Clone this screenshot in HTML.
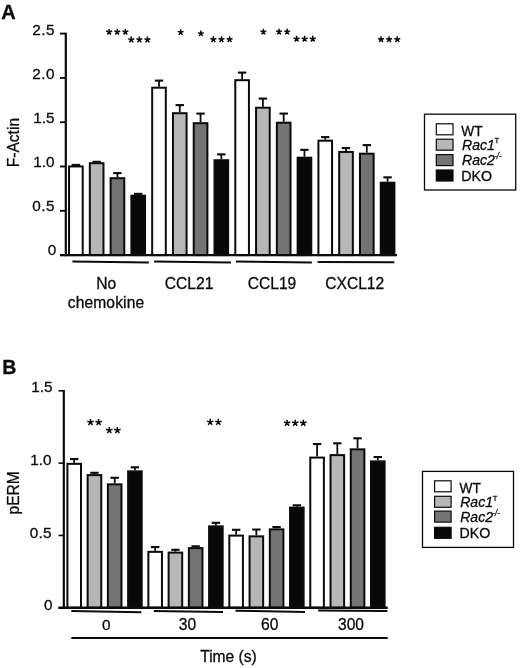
<!DOCTYPE html>
<html><head><meta charset="utf-8"><title>Figure</title>
<style>html,body{margin:0;padding:0;background:#fff}svg{display:block;will-change:transform;opacity:0.999}</style>
</head><body>
<svg width="520" height="668" viewBox="0 0 520 668" font-family="Liberation Sans, sans-serif" fill="#0b0b0b"><style>text{stroke:#0b0b0b;stroke-width:0.3px;stroke-linejoin:round}</style>
<rect width="520" height="668" fill="#fff"/>
<text x="1.3" y="18.8" font-size="20" text-anchor="start" font-weight="bold" font-style="normal" >A</text>
<line x1="75.88" y1="164.90" x2="75.88" y2="165.45" stroke="#0b0b0b" stroke-width="1.8"/>
<line x1="71.67" y1="164.90" x2="80.08" y2="164.90" stroke="#0b0b0b" stroke-width="2.1"/>
<rect x="69.05" y="166.45" width="13.65" height="88.65" fill="#ffffff" stroke="#0b0b0b" stroke-width="2.0"/>
<line x1="96.66" y1="161.80" x2="96.66" y2="162.20" stroke="#0b0b0b" stroke-width="1.8"/>
<line x1="92.45" y1="161.80" x2="100.86" y2="161.80" stroke="#0b0b0b" stroke-width="2.1"/>
<rect x="89.83" y="163.20" width="13.65" height="91.90" fill="#b7b7b7" stroke="#0b0b0b" stroke-width="2.0"/>
<line x1="117.44" y1="173.10" x2="117.44" y2="177.20" stroke="#0b0b0b" stroke-width="1.8"/>
<line x1="113.23" y1="173.10" x2="121.64" y2="173.10" stroke="#0b0b0b" stroke-width="2.1"/>
<rect x="110.61" y="178.20" width="13.65" height="76.90" fill="#747474" stroke="#0b0b0b" stroke-width="2.0"/>
<line x1="138.21" y1="193.85" x2="138.21" y2="194.70" stroke="#0b0b0b" stroke-width="1.8"/>
<line x1="134.01" y1="193.85" x2="142.41" y2="193.85" stroke="#0b0b0b" stroke-width="2.1"/>
<rect x="131.39" y="195.70" width="13.65" height="59.40" fill="#080808" stroke="#0b0b0b" stroke-width="2.0"/>
<line x1="159.00" y1="80.60" x2="159.00" y2="86.70" stroke="#0b0b0b" stroke-width="1.8"/>
<line x1="154.80" y1="80.60" x2="163.19" y2="80.60" stroke="#0b0b0b" stroke-width="2.1"/>
<rect x="152.17" y="87.70" width="13.65" height="167.40" fill="#ffffff" stroke="#0b0b0b" stroke-width="2.0"/>
<line x1="179.77" y1="105.10" x2="179.77" y2="112.20" stroke="#0b0b0b" stroke-width="1.8"/>
<line x1="175.57" y1="105.10" x2="183.97" y2="105.10" stroke="#0b0b0b" stroke-width="2.1"/>
<rect x="172.95" y="113.20" width="13.65" height="141.90" fill="#b7b7b7" stroke="#0b0b0b" stroke-width="2.0"/>
<line x1="200.56" y1="113.60" x2="200.56" y2="122.20" stroke="#0b0b0b" stroke-width="1.8"/>
<line x1="196.36" y1="113.60" x2="204.75" y2="113.60" stroke="#0b0b0b" stroke-width="2.1"/>
<rect x="193.73" y="123.20" width="13.65" height="131.90" fill="#747474" stroke="#0b0b0b" stroke-width="2.0"/>
<line x1="221.33" y1="154.35" x2="221.33" y2="159.20" stroke="#0b0b0b" stroke-width="1.8"/>
<line x1="217.13" y1="154.35" x2="225.53" y2="154.35" stroke="#0b0b0b" stroke-width="2.1"/>
<rect x="214.51" y="160.20" width="13.65" height="94.90" fill="#080808" stroke="#0b0b0b" stroke-width="2.0"/>
<line x1="242.12" y1="72.60" x2="242.12" y2="79.20" stroke="#0b0b0b" stroke-width="1.8"/>
<line x1="237.92" y1="72.60" x2="246.31" y2="72.60" stroke="#0b0b0b" stroke-width="2.1"/>
<rect x="235.29" y="80.20" width="13.65" height="174.90" fill="#ffffff" stroke="#0b0b0b" stroke-width="2.0"/>
<line x1="262.89" y1="98.60" x2="262.89" y2="106.70" stroke="#0b0b0b" stroke-width="1.8"/>
<line x1="258.69" y1="98.60" x2="267.09" y2="98.60" stroke="#0b0b0b" stroke-width="2.1"/>
<rect x="256.07" y="107.70" width="13.65" height="147.40" fill="#b7b7b7" stroke="#0b0b0b" stroke-width="2.0"/>
<line x1="283.68" y1="113.60" x2="283.68" y2="121.70" stroke="#0b0b0b" stroke-width="1.8"/>
<line x1="279.48" y1="113.60" x2="287.88" y2="113.60" stroke="#0b0b0b" stroke-width="2.1"/>
<rect x="276.85" y="122.70" width="13.65" height="132.40" fill="#747474" stroke="#0b0b0b" stroke-width="2.0"/>
<line x1="304.45" y1="149.85" x2="304.45" y2="156.70" stroke="#0b0b0b" stroke-width="1.8"/>
<line x1="300.25" y1="149.85" x2="308.65" y2="149.85" stroke="#0b0b0b" stroke-width="2.1"/>
<rect x="297.63" y="157.70" width="13.65" height="97.40" fill="#080808" stroke="#0b0b0b" stroke-width="2.0"/>
<line x1="325.24" y1="137.10" x2="325.24" y2="139.70" stroke="#0b0b0b" stroke-width="1.8"/>
<line x1="321.04" y1="137.10" x2="329.44" y2="137.10" stroke="#0b0b0b" stroke-width="2.1"/>
<rect x="318.41" y="140.70" width="13.65" height="114.40" fill="#ffffff" stroke="#0b0b0b" stroke-width="2.0"/>
<line x1="346.01" y1="148.10" x2="346.01" y2="150.95" stroke="#0b0b0b" stroke-width="1.8"/>
<line x1="341.81" y1="148.10" x2="350.21" y2="148.10" stroke="#0b0b0b" stroke-width="2.1"/>
<rect x="339.19" y="151.95" width="13.65" height="103.15" fill="#b7b7b7" stroke="#0b0b0b" stroke-width="2.0"/>
<line x1="366.80" y1="145.10" x2="366.80" y2="152.70" stroke="#0b0b0b" stroke-width="1.8"/>
<line x1="362.60" y1="145.10" x2="371.00" y2="145.10" stroke="#0b0b0b" stroke-width="2.1"/>
<rect x="359.97" y="153.70" width="13.65" height="101.40" fill="#747474" stroke="#0b0b0b" stroke-width="2.0"/>
<line x1="387.58" y1="177.35" x2="387.58" y2="181.70" stroke="#0b0b0b" stroke-width="1.8"/>
<line x1="383.38" y1="177.35" x2="391.78" y2="177.35" stroke="#0b0b0b" stroke-width="2.1"/>
<rect x="380.75" y="182.70" width="13.65" height="72.40" fill="#080808" stroke="#0b0b0b" stroke-width="2.0"/>
<line x1="65.8" y1="32.800000000000004" x2="65.8" y2="256.3" stroke="#0b0b0b" stroke-width="2.2"/>
<line x1="60" y1="255.1" x2="397" y2="255.1" stroke="#0b0b0b" stroke-width="2.4"/>
<line x1="60" y1="33.60" x2="65.8" y2="33.60" stroke="#0b0b0b" stroke-width="1.9"/>
<text x="55.1" y="34.50" font-size="15.3" text-anchor="end" font-weight="normal" font-style="normal" letter-spacing="0.55">2.5</text>
<line x1="60" y1="77.90" x2="65.8" y2="77.90" stroke="#0b0b0b" stroke-width="1.9"/>
<text x="55.1" y="78.80" font-size="15.3" text-anchor="end" font-weight="normal" font-style="normal" letter-spacing="0.55">2.0</text>
<line x1="60" y1="122.20" x2="65.8" y2="122.20" stroke="#0b0b0b" stroke-width="1.9"/>
<text x="54.6" y="122.80" font-size="15.3" text-anchor="end" font-weight="normal" font-style="normal" >1.5</text>
<line x1="60" y1="166.50" x2="65.8" y2="166.50" stroke="#0b0b0b" stroke-width="1.9"/>
<text x="54.6" y="167.10" font-size="15.3" text-anchor="end" font-weight="normal" font-style="normal" >1.0</text>
<line x1="60" y1="210.80" x2="65.8" y2="210.80" stroke="#0b0b0b" stroke-width="1.9"/>
<text x="55.1" y="211.10" font-size="15.3" text-anchor="end" font-weight="normal" font-style="normal" letter-spacing="0.55">0.5</text>
<line x1="60" y1="255.10" x2="65.8" y2="255.10" stroke="#0b0b0b" stroke-width="1.9"/>
<text x="56.2" y="254.50" font-size="15.3" text-anchor="end" font-weight="normal" font-style="normal" >0</text>
<text transform="translate(19.2,142.6) rotate(-90) scale(0.985,1.0)" font-size="15.8" text-anchor="middle">F-Actin</text>
<line x1="72.4" y1="261.5" x2="148.9" y2="262.6" stroke="#0b0b0b" stroke-width="2"/>
<line x1="154.1" y1="261.6" x2="231" y2="262.5" stroke="#0b0b0b" stroke-width="2"/>
<line x1="235.8" y1="261.6" x2="311.9" y2="262.6" stroke="#0b0b0b" stroke-width="2"/>
<line x1="317.6" y1="261.9" x2="394.4" y2="262.3" stroke="#0b0b0b" stroke-width="2"/>
<text x="106.3" y="288.5" font-size="15.6" text-anchor="middle" font-weight="normal" font-style="normal" >No</text>
<text x="106.0" y="308.3" font-size="15.6" text-anchor="middle" font-weight="normal" font-style="normal" letter-spacing="0.12">chemokine</text>
<text x="189.1" y="288.7" font-size="15.6" text-anchor="middle" font-weight="normal" font-style="normal" >CCL21</text>
<text x="272" y="288.7" font-size="15.6" text-anchor="middle" font-weight="normal" font-style="normal" >CCL19</text>
<text x="354.75" y="288.7" font-size="15.6" text-anchor="middle" font-weight="normal" font-style="normal" >CXCL12</text>
<path d="M109.17 32.02L109.17 28.90M109.17 32.02L112.14 31.06M109.17 32.02L111.00 34.54M109.17 32.02L107.34 34.54M109.17 32.02L106.20 31.06" stroke="#0b0b0b" stroke-width="1.5" fill="none"/>
<path d="M117.27 32.02L117.27 28.90M117.27 32.02L120.24 31.06M117.27 32.02L119.10 34.54M117.27 32.02L115.44 34.54M117.27 32.02L114.30 31.06" stroke="#0b0b0b" stroke-width="1.5" fill="none"/>
<path d="M125.37 32.02L125.37 28.90M125.37 32.02L128.34 31.06M125.37 32.02L127.20 34.54M125.37 32.02L123.54 34.54M125.37 32.02L122.40 31.06" stroke="#0b0b0b" stroke-width="1.5" fill="none"/>
<path d="M131.27 39.72L131.27 36.60M131.27 39.72L134.24 38.76M131.27 39.72L133.10 42.24M131.27 39.72L129.44 42.24M131.27 39.72L128.30 38.76" stroke="#0b0b0b" stroke-width="1.5" fill="none"/>
<path d="M139.37 39.72L139.37 36.60M139.37 39.72L142.34 38.76M139.37 39.72L141.20 42.24M139.37 39.72L137.54 42.24M139.37 39.72L136.40 38.76" stroke="#0b0b0b" stroke-width="1.5" fill="none"/>
<path d="M147.47 39.72L147.47 36.60M147.47 39.72L150.44 38.76M147.47 39.72L149.30 42.24M147.47 39.72L145.64 42.24M147.47 39.72L144.50 38.76" stroke="#0b0b0b" stroke-width="1.5" fill="none"/>
<path d="M180.67 32.32L180.67 29.20M180.67 32.32L183.64 31.36M180.67 32.32L182.50 34.84M180.67 32.32L178.84 34.84M180.67 32.32L177.70 31.36" stroke="#0b0b0b" stroke-width="1.5" fill="none"/>
<path d="M200.87 33.62L200.87 30.50M200.87 33.62L203.84 32.66M200.87 33.62L202.70 36.14M200.87 33.62L199.04 36.14M200.87 33.62L197.90 32.66" stroke="#0b0b0b" stroke-width="1.5" fill="none"/>
<path d="M213.37 39.42L213.37 36.30M213.37 39.42L216.34 38.46M213.37 39.42L215.20 41.94M213.37 39.42L211.54 41.94M213.37 39.42L210.40 38.46" stroke="#0b0b0b" stroke-width="1.5" fill="none"/>
<path d="M221.47 39.42L221.47 36.30M221.47 39.42L224.44 38.46M221.47 39.42L223.30 41.94M221.47 39.42L219.64 41.94M221.47 39.42L218.50 38.46" stroke="#0b0b0b" stroke-width="1.5" fill="none"/>
<path d="M229.57 39.42L229.57 36.30M229.57 39.42L232.54 38.46M229.57 39.42L231.40 41.94M229.57 39.42L227.74 41.94M229.57 39.42L226.60 38.46" stroke="#0b0b0b" stroke-width="1.5" fill="none"/>
<path d="M263.37 31.82L263.37 28.70M263.37 31.82L266.34 30.86M263.37 31.82L265.20 34.34M263.37 31.82L261.54 34.34M263.37 31.82L260.40 30.86" stroke="#0b0b0b" stroke-width="1.5" fill="none"/>
<path d="M279.07 31.82L279.07 28.70M279.07 31.82L282.04 30.86M279.07 31.82L280.90 34.34M279.07 31.82L277.24 34.34M279.07 31.82L276.10 30.86" stroke="#0b0b0b" stroke-width="1.5" fill="none"/>
<path d="M287.17 31.82L287.17 28.70M287.17 31.82L290.14 30.86M287.17 31.82L289.00 34.34M287.17 31.82L285.34 34.34M287.17 31.82L284.20 30.86" stroke="#0b0b0b" stroke-width="1.5" fill="none"/>
<path d="M296.57 38.92L296.57 35.80M296.57 38.92L299.54 37.96M296.57 38.92L298.40 41.44M296.57 38.92L294.74 41.44M296.57 38.92L293.60 37.96" stroke="#0b0b0b" stroke-width="1.5" fill="none"/>
<path d="M304.67 38.92L304.67 35.80M304.67 38.92L307.64 37.96M304.67 38.92L306.50 41.44M304.67 38.92L302.84 41.44M304.67 38.92L301.70 37.96" stroke="#0b0b0b" stroke-width="1.5" fill="none"/>
<path d="M312.77 38.92L312.77 35.80M312.77 38.92L315.74 37.96M312.77 38.92L314.60 41.44M312.77 38.92L310.94 41.44M312.77 38.92L309.80 37.96" stroke="#0b0b0b" stroke-width="1.5" fill="none"/>
<path d="M381.07 39.42L381.07 36.30M381.07 39.42L384.04 38.46M381.07 39.42L382.90 41.94M381.07 39.42L379.24 41.94M381.07 39.42L378.10 38.46" stroke="#0b0b0b" stroke-width="1.5" fill="none"/>
<path d="M389.17 39.42L389.17 36.30M389.17 39.42L392.14 38.46M389.17 39.42L391.00 41.94M389.17 39.42L387.34 41.94M389.17 39.42L386.20 38.46" stroke="#0b0b0b" stroke-width="1.5" fill="none"/>
<path d="M397.27 39.42L397.27 36.30M397.27 39.42L400.24 38.46M397.27 39.42L399.10 41.94M397.27 39.42L395.44 41.94M397.27 39.42L394.30 38.46" stroke="#0b0b0b" stroke-width="1.5" fill="none"/>
<rect x="424.5" y="114.2" width="91.2" height="75.8" fill="#fff" stroke="#0b0b0b" stroke-width="1.3"/>
<rect x="436.3" y="123.80" width="16.7" height="11" fill="#ffffff" stroke="#0b0b0b" stroke-width="1.2"/>
<rect x="436.3" y="139.20" width="16.7" height="11" fill="#b7b7b7" stroke="#0b0b0b" stroke-width="1.2"/>
<rect x="436.3" y="154.60" width="16.7" height="11" fill="#747474" stroke="#0b0b0b" stroke-width="1.2"/>
<rect x="436.3" y="170.00" width="16.7" height="11" fill="#080808" stroke="#0b0b0b" stroke-width="1.2"/>
<text transform="translate(461.3,136.20) scale(0.945,1.03)" font-size="14.5">WT</text>
<text transform="translate(462.0,150.00) scale(0.97,1.03)" font-size="14.5" font-style="italic">Rac1<tspan font-size="7.8" font-style="normal" dy="-6.4" dx="-0.3">T</tspan></text>
<text transform="translate(462.0,165.00) scale(0.97,1.03)" font-size="14.5" font-style="italic">Rac2<tspan font-size="8.2" dy="-5.8" dx="-0.7">-/-</tspan></text>
<text transform="translate(461.3,180.70) scale(0.98,1.03)" font-size="14.5">DKO</text>
<text x="2.2" y="373.8" font-size="19.6" text-anchor="start" font-weight="bold" font-style="normal" >B</text>
<line x1="74.20" y1="459.05" x2="74.20" y2="462.85" stroke="#0b0b0b" stroke-width="1.8"/>
<line x1="70.00" y1="459.05" x2="78.40" y2="459.05" stroke="#0b0b0b" stroke-width="2.1"/>
<rect x="67.40" y="463.85" width="13.60" height="143.95" fill="#ffffff" stroke="#0b0b0b" stroke-width="2.0"/>
<line x1="94.44" y1="472.80" x2="94.44" y2="474.10" stroke="#0b0b0b" stroke-width="1.8"/>
<line x1="90.24" y1="472.80" x2="98.64" y2="472.80" stroke="#0b0b0b" stroke-width="2.1"/>
<rect x="87.64" y="475.10" width="13.60" height="132.70" fill="#b7b7b7" stroke="#0b0b0b" stroke-width="2.0"/>
<line x1="114.68" y1="477.80" x2="114.68" y2="483.35" stroke="#0b0b0b" stroke-width="1.8"/>
<line x1="110.48" y1="477.80" x2="118.88" y2="477.80" stroke="#0b0b0b" stroke-width="2.1"/>
<rect x="107.88" y="484.35" width="13.60" height="123.45" fill="#747474" stroke="#0b0b0b" stroke-width="2.0"/>
<line x1="134.92" y1="467.30" x2="134.92" y2="470.35" stroke="#0b0b0b" stroke-width="1.8"/>
<line x1="130.72" y1="467.30" x2="139.12" y2="467.30" stroke="#0b0b0b" stroke-width="2.1"/>
<rect x="128.12" y="471.35" width="13.60" height="136.45" fill="#080808" stroke="#0b0b0b" stroke-width="2.0"/>
<line x1="155.16" y1="547.05" x2="155.16" y2="550.85" stroke="#0b0b0b" stroke-width="1.8"/>
<line x1="150.96" y1="547.05" x2="159.36" y2="547.05" stroke="#0b0b0b" stroke-width="2.1"/>
<rect x="148.36" y="551.85" width="13.60" height="55.95" fill="#ffffff" stroke="#0b0b0b" stroke-width="2.0"/>
<line x1="175.40" y1="549.80" x2="175.40" y2="551.60" stroke="#0b0b0b" stroke-width="1.8"/>
<line x1="171.20" y1="549.80" x2="179.60" y2="549.80" stroke="#0b0b0b" stroke-width="2.1"/>
<rect x="168.60" y="552.60" width="13.60" height="55.20" fill="#b7b7b7" stroke="#0b0b0b" stroke-width="2.0"/>
<line x1="195.64" y1="546.30" x2="195.64" y2="547.10" stroke="#0b0b0b" stroke-width="1.8"/>
<line x1="191.44" y1="546.30" x2="199.84" y2="546.30" stroke="#0b0b0b" stroke-width="2.1"/>
<rect x="188.84" y="548.10" width="13.60" height="59.70" fill="#747474" stroke="#0b0b0b" stroke-width="2.0"/>
<line x1="215.88" y1="522.80" x2="215.88" y2="525.35" stroke="#0b0b0b" stroke-width="1.8"/>
<line x1="211.68" y1="522.80" x2="220.08" y2="522.80" stroke="#0b0b0b" stroke-width="2.1"/>
<rect x="209.08" y="526.35" width="13.60" height="81.45" fill="#080808" stroke="#0b0b0b" stroke-width="2.0"/>
<line x1="236.12" y1="529.80" x2="236.12" y2="534.60" stroke="#0b0b0b" stroke-width="1.8"/>
<line x1="231.92" y1="529.80" x2="240.32" y2="529.80" stroke="#0b0b0b" stroke-width="2.1"/>
<rect x="229.32" y="535.60" width="13.60" height="72.20" fill="#ffffff" stroke="#0b0b0b" stroke-width="2.0"/>
<line x1="256.36" y1="529.55" x2="256.36" y2="535.35" stroke="#0b0b0b" stroke-width="1.8"/>
<line x1="252.16" y1="529.55" x2="260.56" y2="529.55" stroke="#0b0b0b" stroke-width="2.1"/>
<rect x="249.56" y="536.35" width="13.60" height="71.45" fill="#b7b7b7" stroke="#0b0b0b" stroke-width="2.0"/>
<line x1="276.60" y1="527.05" x2="276.60" y2="528.35" stroke="#0b0b0b" stroke-width="1.8"/>
<line x1="272.40" y1="527.05" x2="280.80" y2="527.05" stroke="#0b0b0b" stroke-width="2.1"/>
<rect x="269.80" y="529.35" width="13.60" height="78.45" fill="#747474" stroke="#0b0b0b" stroke-width="2.0"/>
<line x1="296.84" y1="505.30" x2="296.84" y2="506.60" stroke="#0b0b0b" stroke-width="1.8"/>
<line x1="292.64" y1="505.30" x2="301.04" y2="505.30" stroke="#0b0b0b" stroke-width="2.1"/>
<rect x="290.04" y="507.60" width="13.60" height="100.20" fill="#080808" stroke="#0b0b0b" stroke-width="2.0"/>
<line x1="317.08" y1="444.05" x2="317.08" y2="456.60" stroke="#0b0b0b" stroke-width="1.8"/>
<line x1="312.88" y1="444.05" x2="321.28" y2="444.05" stroke="#0b0b0b" stroke-width="2.1"/>
<rect x="310.28" y="457.60" width="13.60" height="150.20" fill="#ffffff" stroke="#0b0b0b" stroke-width="2.0"/>
<line x1="337.32" y1="443.30" x2="337.32" y2="454.10" stroke="#0b0b0b" stroke-width="1.8"/>
<line x1="333.12" y1="443.30" x2="341.52" y2="443.30" stroke="#0b0b0b" stroke-width="2.1"/>
<rect x="330.52" y="455.10" width="13.60" height="152.70" fill="#b7b7b7" stroke="#0b0b0b" stroke-width="2.0"/>
<line x1="357.56" y1="438.30" x2="357.56" y2="448.35" stroke="#0b0b0b" stroke-width="1.8"/>
<line x1="353.36" y1="438.30" x2="361.76" y2="438.30" stroke="#0b0b0b" stroke-width="2.1"/>
<rect x="350.76" y="449.35" width="13.60" height="158.45" fill="#747474" stroke="#0b0b0b" stroke-width="2.0"/>
<line x1="377.80" y1="457.05" x2="377.80" y2="460.35" stroke="#0b0b0b" stroke-width="1.8"/>
<line x1="373.60" y1="457.05" x2="382.00" y2="457.05" stroke="#0b0b0b" stroke-width="2.1"/>
<rect x="371.00" y="461.35" width="13.60" height="146.45" fill="#080808" stroke="#0b0b0b" stroke-width="2.0"/>
<line x1="63.8" y1="390.0" x2="63.8" y2="609.0" stroke="#0b0b0b" stroke-width="2.2"/>
<line x1="58.5" y1="607.8" x2="387.7" y2="607.8" stroke="#0b0b0b" stroke-width="2.4"/>
<line x1="58.5" y1="390.80" x2="63.8" y2="390.80" stroke="#0b0b0b" stroke-width="1.6"/>
<text x="52.6" y="391.90" font-size="15.3" text-anchor="end" font-weight="normal" font-style="normal" >1.5</text>
<line x1="58.5" y1="463.13" x2="63.8" y2="463.13" stroke="#0b0b0b" stroke-width="1.6"/>
<text x="51.4" y="465.43" font-size="15.3" text-anchor="end" font-weight="normal" font-style="normal" >1.0</text>
<line x1="58.5" y1="535.47" x2="63.8" y2="535.47" stroke="#0b0b0b" stroke-width="1.6"/>
<text x="51.9" y="537.87" font-size="15.3" text-anchor="end" font-weight="normal" font-style="normal" letter-spacing="0.3">0.5</text>
<line x1="58.5" y1="607.80" x2="63.8" y2="607.80" stroke="#0b0b0b" stroke-width="1.6"/>
<text x="52.4" y="610.20" font-size="15.3" text-anchor="end" font-weight="normal" font-style="normal" >0</text>
<text transform="translate(19.1,492.8) rotate(-90) scale(0.985,1.0)" font-size="15.8" text-anchor="middle">pERM</text>
<line x1="71.3" y1="611.0" x2="141.3" y2="612.2" stroke="#0b0b0b" stroke-width="2"/>
<line x1="153.8" y1="611.0" x2="223" y2="611.9" stroke="#0b0b0b" stroke-width="2"/>
<line x1="235.5" y1="610.8" x2="305" y2="611.9" stroke="#0b0b0b" stroke-width="2"/>
<line x1="318.2" y1="610.4" x2="387.4" y2="611.0" stroke="#0b0b0b" stroke-width="2"/>
<line x1="71.3" y1="638" x2="387.7" y2="638" stroke="#0b0b0b" stroke-width="1.8"/>
<text x="106.4" y="630" font-size="15.4" text-anchor="middle" font-weight="normal" font-style="normal" >0</text>
<text x="187.5" y="630" font-size="15.6" text-anchor="middle" font-weight="normal" font-style="normal" >30</text>
<text x="269.8" y="630" font-size="15.6" text-anchor="middle" font-weight="normal" font-style="normal" >60</text>
<text x="351" y="630" font-size="15.6" text-anchor="middle" font-weight="normal" font-style="normal" >300</text>
<text x="200.2" y="662" font-size="15.6" text-anchor="start" font-weight="normal" font-style="normal" >Time (s)</text>
<path d="M90.50 422.25L90.50 418.90M90.50 422.25L93.69 421.21M90.50 422.25L92.47 424.96M90.50 422.25L88.53 424.96M90.50 422.25L87.31 421.21" stroke="#0b0b0b" stroke-width="1.5" fill="none"/>
<path d="M98.60 422.25L98.60 418.90M98.60 422.25L101.79 421.21M98.60 422.25L100.57 424.96M98.60 422.25L96.63 424.96M98.60 422.25L95.41 421.21" stroke="#0b0b0b" stroke-width="1.5" fill="none"/>
<path d="M109.30 430.35L109.30 427.00M109.30 430.35L112.49 429.31M109.30 430.35L111.27 433.06M109.30 430.35L107.33 433.06M109.30 430.35L106.11 429.31" stroke="#0b0b0b" stroke-width="1.5" fill="none"/>
<path d="M117.40 430.35L117.40 427.00M117.40 430.35L120.59 429.31M117.40 430.35L119.37 433.06M117.40 430.35L115.43 433.06M117.40 430.35L114.21 429.31" stroke="#0b0b0b" stroke-width="1.5" fill="none"/>
<path d="M210.20 422.15L210.20 418.80M210.20 422.15L213.39 421.11M210.20 422.15L212.17 424.86M210.20 422.15L208.23 424.86M210.20 422.15L207.01 421.11" stroke="#0b0b0b" stroke-width="1.5" fill="none"/>
<path d="M218.30 422.15L218.30 418.80M218.30 422.15L221.49 421.11M218.30 422.15L220.27 424.86M218.30 422.15L216.33 424.86M218.30 422.15L215.11 421.11" stroke="#0b0b0b" stroke-width="1.5" fill="none"/>
<path d="M287.10 423.05L287.10 419.70M287.10 423.05L290.29 422.01M287.10 423.05L289.07 425.76M287.10 423.05L285.13 425.76M287.10 423.05L283.91 422.01" stroke="#0b0b0b" stroke-width="1.5" fill="none"/>
<path d="M295.20 423.05L295.20 419.70M295.20 423.05L298.39 422.01M295.20 423.05L297.17 425.76M295.20 423.05L293.23 425.76M295.20 423.05L292.01 422.01" stroke="#0b0b0b" stroke-width="1.5" fill="none"/>
<path d="M303.30 423.05L303.30 419.70M303.30 423.05L306.49 422.01M303.30 423.05L305.27 425.76M303.30 423.05L301.33 425.76M303.30 423.05L300.11 422.01" stroke="#0b0b0b" stroke-width="1.5" fill="none"/>
<rect x="422.5" y="471.4" width="91.0" height="76.0" fill="#fff" stroke="#0b0b0b" stroke-width="1.3"/>
<rect x="434.6" y="480.80" width="16.5" height="11" fill="#ffffff" stroke="#0b0b0b" stroke-width="1.2"/>
<rect x="434.6" y="496.30" width="16.5" height="11" fill="#b7b7b7" stroke="#0b0b0b" stroke-width="1.2"/>
<rect x="434.6" y="511.10" width="16.5" height="11" fill="#747474" stroke="#0b0b0b" stroke-width="1.2"/>
<rect x="434.6" y="527.30" width="16.5" height="11" fill="#080808" stroke="#0b0b0b" stroke-width="1.2"/>
<text transform="translate(459.5,493.20) scale(0.945,1.03)" font-size="14.5">WT</text>
<text transform="translate(460.2,507.10) scale(0.97,1.03)" font-size="14.5" font-style="italic">Rac1<tspan font-size="7.8" font-style="normal" dy="-6.4" dx="-0.3">T</tspan></text>
<text transform="translate(460.2,522.20) scale(0.97,1.03)" font-size="14.5" font-style="italic">Rac2<tspan font-size="8.2" dy="-5.8" dx="-0.7">-/-</tspan></text>
<text transform="translate(459.5,538.00) scale(0.98,1.03)" font-size="14.5">DKO</text>
</svg>
</body></html>
